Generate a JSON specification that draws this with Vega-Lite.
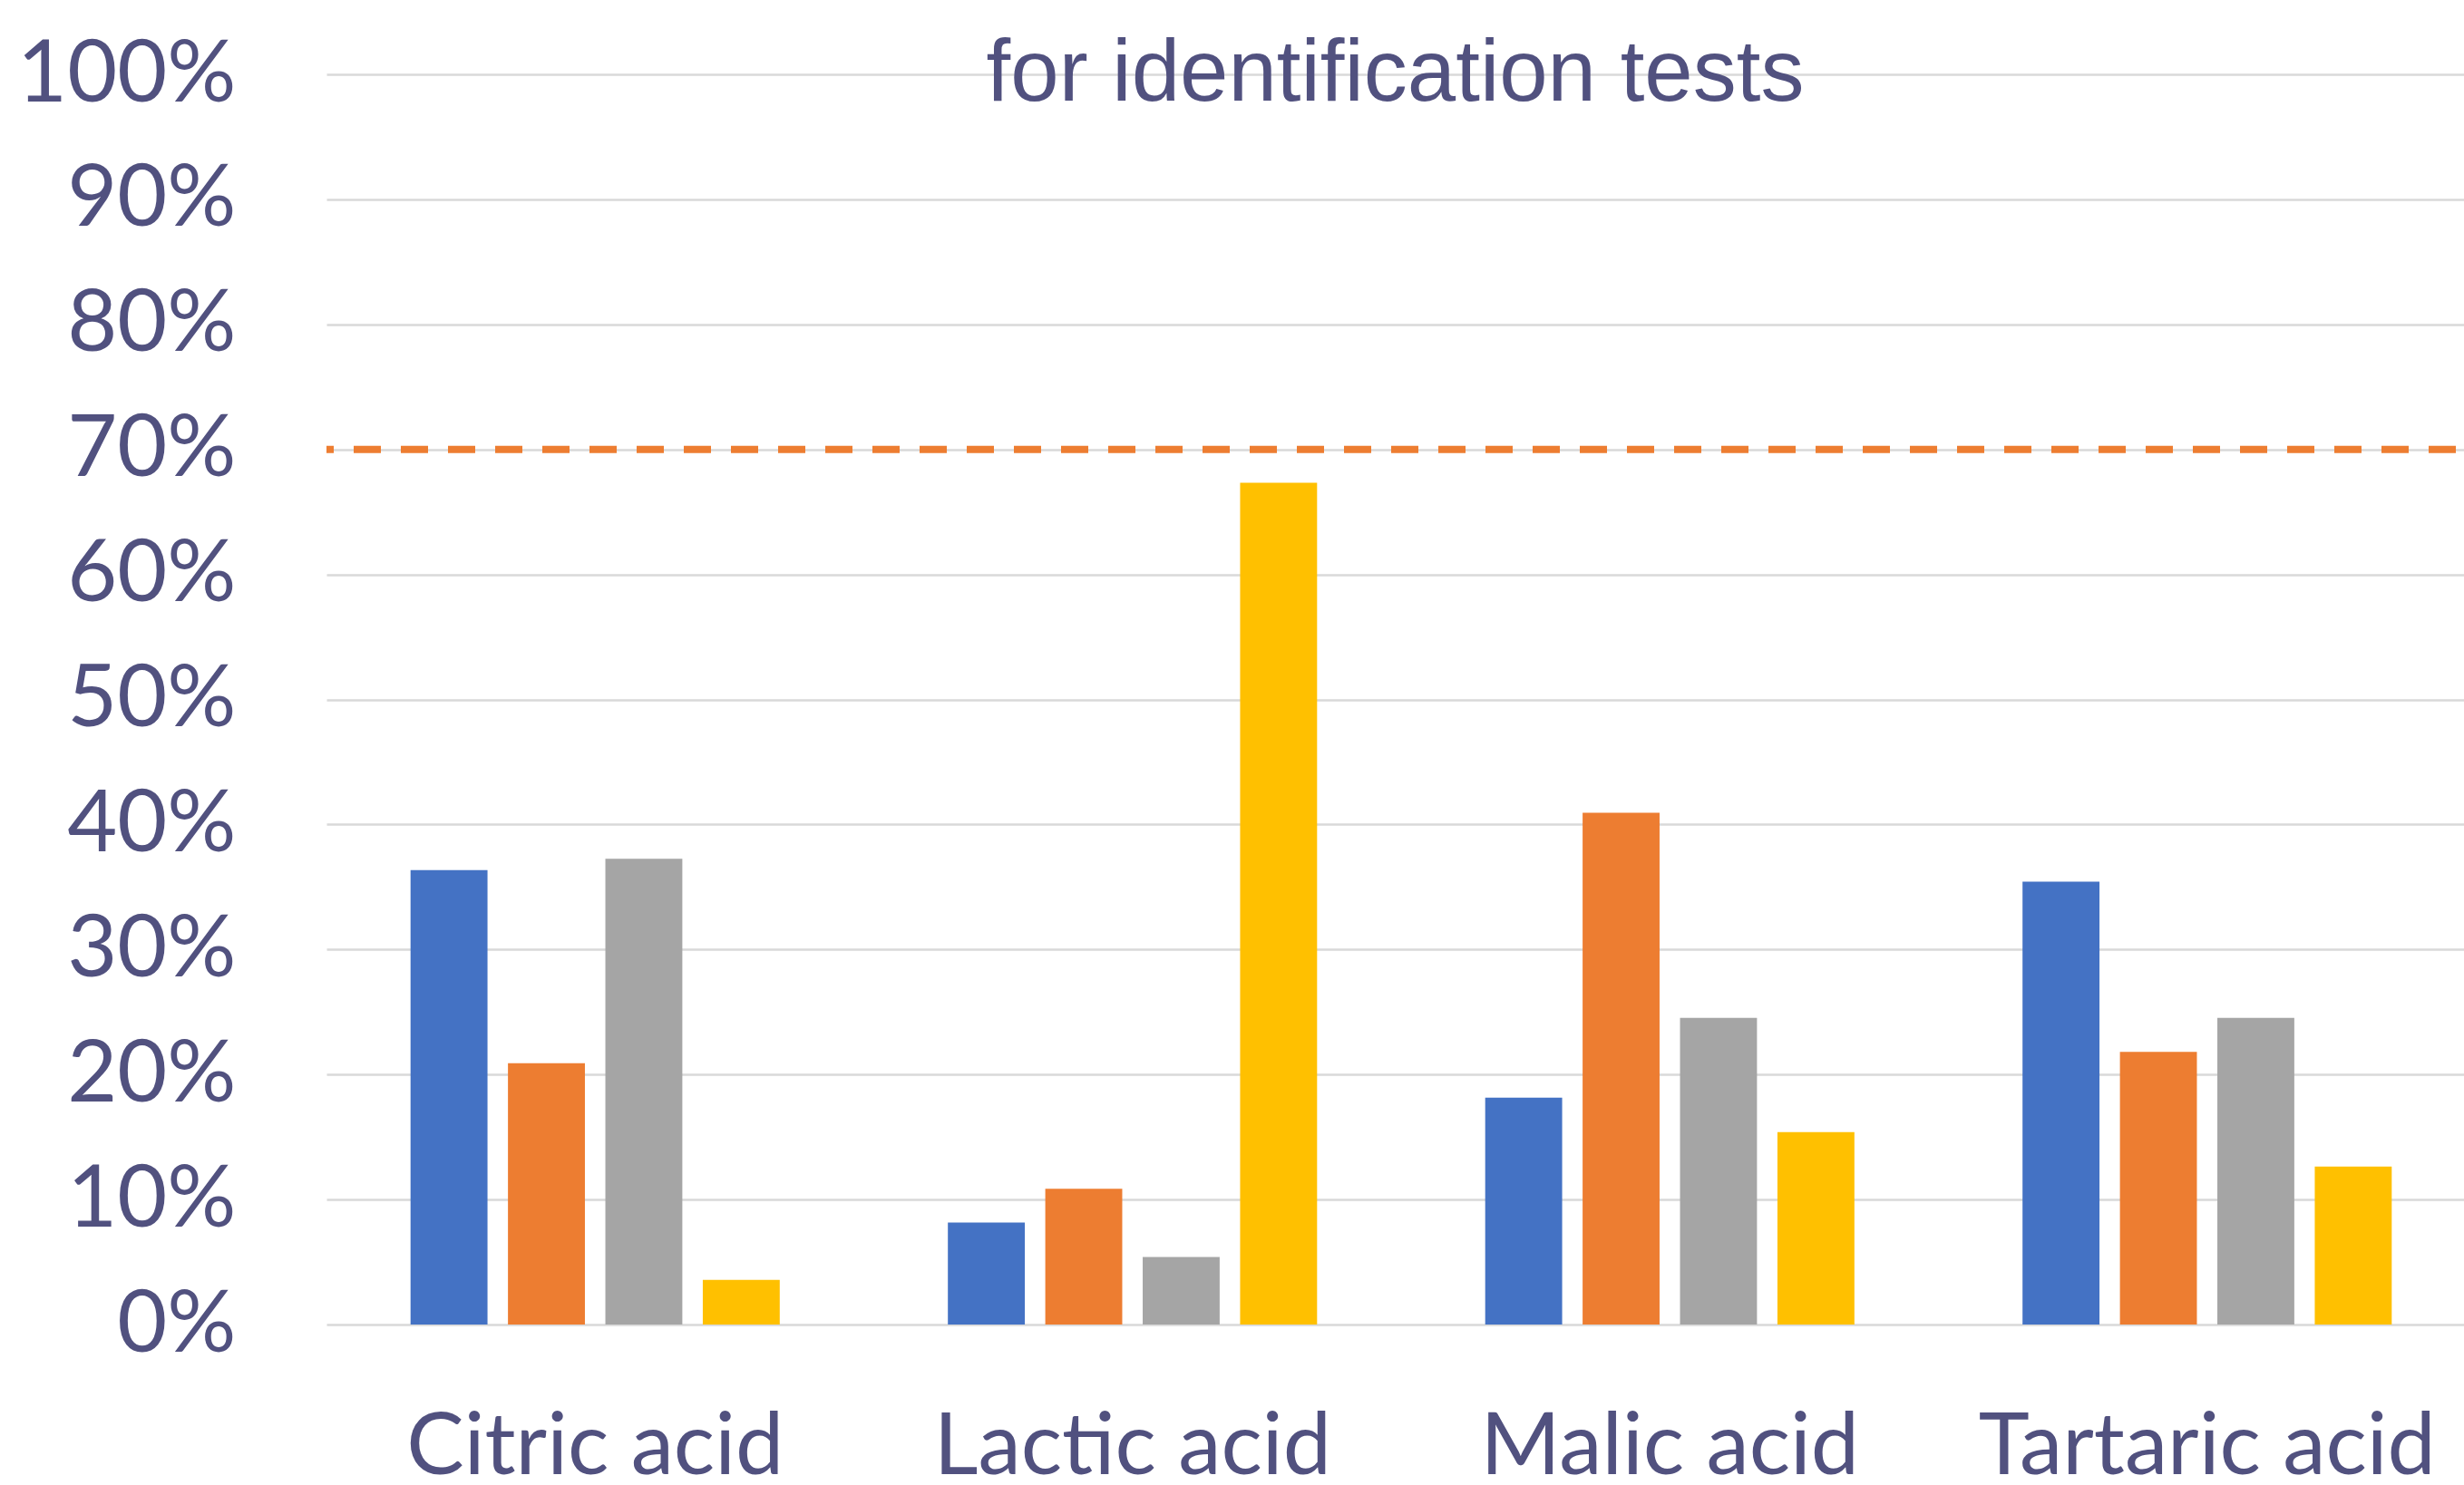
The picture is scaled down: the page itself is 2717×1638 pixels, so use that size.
{
  "$schema": "https://vega.github.io/schema/vega-lite/v6.json",
  "width": 2357,
  "height": 1379,
  "autosize": {"type": "none"},
  "padding": {"left": 360, "top": 82, "right": 0, "bottom": 177},
  "background": "white",
  "title": {
    "text": "for identification tests",
    "font": "Liberation Sans",
    "fontSize": 96,
    "fontWeight": "normal",
    "color": "#51517F",
    "anchor": "middle",
    "baseline": "alphabetic",
    "offset": -172,
    "frame": "group"
  },
  "config": {"view": {"stroke": null}},
  "layer": [
    {
      "data": {
        "values": [
          {"acid": "Citric acid", "series": "Series 1", "share": 0.3634},
          {"acid": "Citric acid", "series": "Series 2", "share": 0.209},
          {"acid": "Citric acid", "series": "Series 3", "share": 0.3726},
          {"acid": "Citric acid", "series": "Series 4", "share": 0.0357},
          {"acid": "Lactic acid", "series": "Series 1", "share": 0.0815},
          {"acid": "Lactic acid", "series": "Series 2", "share": 0.1086},
          {"acid": "Lactic acid", "series": "Series 3", "share": 0.054},
          {"acid": "Lactic acid", "series": "Series 4", "share": 0.6733},
          {"acid": "Malic acid", "series": "Series 1", "share": 0.1814},
          {"acid": "Malic acid", "series": "Series 2", "share": 0.4093},
          {"acid": "Malic acid", "series": "Series 3", "share": 0.2452},
          {"acid": "Malic acid", "series": "Series 4", "share": 0.1539},
          {"acid": "Tartaric acid", "series": "Series 1", "share": 0.3542},
          {"acid": "Tartaric acid", "series": "Series 2", "share": 0.2181},
          {"acid": "Tartaric acid", "series": "Series 3", "share": 0.2452},
          {"acid": "Tartaric acid", "series": "Series 4", "share": 0.1264}
        ]
      },
      "mark": {"type": "bar"},
      "encoding": {
        "x": {
          "field": "acid",
          "type": "nominal",
          "sort": ["Citric acid", "Lactic acid", "Malic acid", "Tartaric acid"],
          "scale": {"range": [0, 2370], "paddingInner": 0, "paddingOuter": 0},
          "axis": {
            "title": null,
            "domain": false,
            "ticks": false,
            "tickSize": 0,
            "labelAngle": 0,
            "labelFont": "Lato",
            "labelFontSize": 95,
            "labelColor": "#51517F",
            "labelPadding": 164,
            "labelBaseline": "alphabetic",
            "labelLimit": 0,
            "labelOverlap": false
          }
        },
        "xOffset": {
          "field": "series",
          "type": "nominal",
          "scale": {"paddingInner": 0.21, "paddingOuter": 0.863}
        },
        "y": {
          "field": "share",
          "type": "quantitative",
          "scale": {"domain": [0, 1]},
          "axis": {
            "title": null,
            "values": [0, 0.1, 0.2, 0.3, 0.4, 0.5, 0.6, 0.7, 0.8, 0.9, 1],
            "format": ".0%",
            "grid": true,
            "gridColor": "#D9D9D9",
            "gridWidth": 2.5,
            "domain": false,
            "ticks": false,
            "tickSize": 0,
            "labelFont": "Lato",
            "labelFontSize": 95,
            "labelColor": "#51517F",
            "labelPadding": 100,
            "labelLimit": 0
          }
        },
        "color": {
          "field": "series",
          "type": "nominal",
          "scale": {"range": ["#4472C4", "#ED7D31", "#A5A5A5", "#FFC000"]},
          "legend": null
        }
      }
    },
    {
      "data": {"values": [{"threshold": 0.7}]},
      "mark": {
        "type": "rule",
        "color": "#ED7D31",
        "strokeWidth": 8,
        "strokeDash": [30, 22],
        "strokeDashOffset": 43,
        "strokeCap": "butt"
      },
      "encoding": {
        "y": {"field": "threshold", "type": "quantitative"}
      }
    }
  ]
}
